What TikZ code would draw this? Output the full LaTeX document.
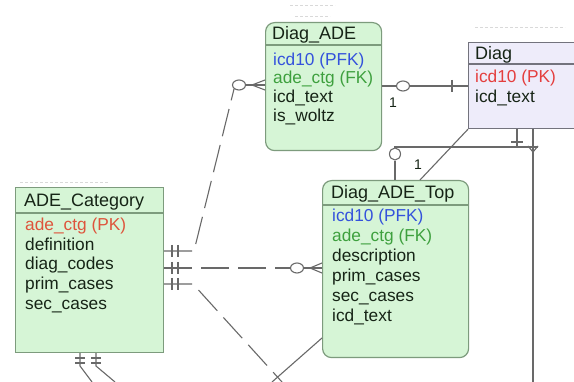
\documentclass[tikz,border=0pt]{standalone}
\usepackage{fontspec}
\setmainfont{Liberation Sans}
\usetikzlibrary{shapes.geometric}

\definecolor{entfill}{RGB}{214,245,214}
\definecolor{entdraw}{RGB}{125,155,125}
\definecolor{reffill}{RGB}{238,236,250}
\definecolor{refdraw}{RGB}{115,115,125}
\definecolor{pkred}{RGB}{228,62,62}
\definecolor{pkorange}{RGB}{222,84,60}
\definecolor{pfkblue}{RGB}{52,82,220}
\definecolor{fkgreen}{RGB}{62,160,62}
\definecolor{txtdark}{RGB}{22,36,22}
\definecolor{linegray}{RGB}{105,105,105}

\begin{document}
\begin{tikzpicture}[x=1pt,y=-1pt,
  entity/.style={draw=entdraw, fill=entfill, line width=1.2pt, anchor=north west, inner sep=0pt},
  refent/.style={draw=refdraw, fill=reffill, line width=1.2pt, anchor=north west, inner sep=0pt},
  sepline/.style={draw=entdraw, line width=1.2pt},
  field/.style={anchor=west, inner sep=0pt, text height=12pt, text depth=4pt,
    text=txtdark, font=\fontsize{17.3}{20}\selectfont},
  hdr/.style={field, font=\fontsize{18}{20}\selectfont},
  rel/.style={draw=linegray, line width=1.1pt},
  dashrel/.style={rel, dash pattern=on 28pt off 9pt},
  optmark/.style={ellipse, draw=linegray, fill=white, line width=1.1pt,
    minimum width=13pt, minimum height=10pt, inner sep=0pt},
  card/.style={inner sep=0pt, text=txtdark, font=\fontsize{14}{16}\selectfont},
  faint/.style={draw=linegray!25, line width=1pt, dash pattern=on 3pt off 2pt}
]
\useasboundingbox (0,0) rectangle (574,382);
\fill[white] (0,0) rectangle (574,382);

% traces of relations leaving the top edge
\draw[faint] (290,6) -- (335,6);
\draw[faint] (295,17) -- (330,17);
\draw[faint] (475,28) -- (565,28);
\draw[faint] (20,183) -- (108,183);

% ---------- entities ----------
\node[entity, rounded corners=9pt, minimum width=116pt, minimum height=128pt] (diagade) at (265,22) {};
\node[refent, minimum width=120pt, minimum height=86pt] (diag) at (468,42) {};
\node[entity, minimum width=148pt, minimum height=165pt] (cat) at (15,187) {};
\node[entity, rounded corners=9pt, minimum width=146pt, minimum height=177pt] (top) at (322,180) {};

% header separators
\draw[sepline] (diagade.west |- 0,45) -- (diagade.east |- 0,45);
\draw[draw=refdraw, line width=1.2pt] (diag.west |- 0,64) -- (diag.east |- 0,64);
\draw[sepline] (cat.west |- 0,213) -- (cat.east |- 0,213);
\draw[sepline] (top.west |- 0,205) -- (top.east |- 0,205);

% Diag_ADE
\node[hdr] (dah) at (272,36) {Diag\_ADE};
\node[field, text=pfkblue] (da1) at (273,62) {icd10 (PFK)};
\node[field, text=fkgreen] (da2) at (273,80) {ade\_ctg (FK)};
\node[field] (da3) at (273,99) {icd\_text};
\node[field] (da4) at (273,118) {is\_woltz};

% Diag
\node[hdr] (dgh) at (475,56) {Diag};
\node[field, text=pkred] (dg1) at (475,79) {icd10 (PK)};
\node[field] (dg2) at (475,99) {icd\_text};

% ADE_Category
\node[hdr] (cth) at (24,203) {ADE\_Category};
\node[field, text=pkorange] (ct1) at (25,227) {ade\_ctg (PK)};
\node[field] (ct2) at (25,247) {definition};
\node[field] (ct3) at (25,266) {diag\_codes};
\node[field] (ct4) at (25,286) {prim\_cases};
\node[field] (ct5) at (25,306) {sec\_cases};

% Diag_ADE_Top
\node[hdr] (tph) at (331,195) {Diag\_ADE\_Top};
\node[field, text=pfkblue] (tp1) at (332,218) {icd10 (PFK)};
\node[field, text=fkgreen] (tp2) at (332,238) {ade\_ctg (FK)};
\node[field] (tp3) at (332,258) {description};
\node[field] (tp4) at (332,278) {prim\_cases};
\node[field] (tp5) at (332,298) {sec\_cases};
\node[field] (tp6) at (332,318) {icd\_text};

% ---------- relationships ----------
% optional-end markers
\node[optmark] (o1) at (239,85) {};
\node[optmark] (o2) at (297,268) {};
\node[optmark] (o3) at (403,86) {};
\node[optmark, minimum width=11pt, minimum height=12pt] (o4) at (395,154) {};

% ADE_Category -> Diag_ADE
\draw[dashrel] (cat.east |- 0,251) -- (194,251) -- (o1.south west);
\draw[rel] (o1.east) -- (diagade.west |- o1);
\draw[rel] (252,85) -- (diagade.west |- 0,80);
\draw[rel] (252,85) -- (diagade.west |- 0,90);

% ADE_Category -> Diag_ADE_Top
\draw[dashrel] (cat.east |- 0,268) -- (o2.west);
\draw[rel] (o2.east) -- (top.west |- o2);
\draw[rel] (310,268) -- (top.west |- 0,263);
\draw[rel] (310,268) -- (top.west |- 0,273);

% ADE_Category -> off the bottom edge
\draw[dashrel] (cat.east |- 0,284) -- (193,284) -- (282,382);
\draw[rel] (top.west |- 0,338) -- (272,382);

% identifying ticks at ADE_Category
\foreach \yy in {251,268,284} {
  \draw[rel] (172,\yy-6) -- (172,\yy+6);
  \draw[rel] (178,\yy-6) -- (178,\yy+6);
}

% ADE_Category bottom relations
\draw[rel] (cat.south -| 80,0) -- (80,366) -- (92,382);
\draw[rel] (cat.south -| 96,0) -- (96,366) -- (115,382);
\draw[rel] (75,358) -- (85,358);
\draw[rel] (75,363) -- (85,363);
\draw[rel] (91,358) -- (101,358);
\draw[rel] (91,363) -- (101,363);

% Diag_ADE -> Diag
\draw[rel] (diagade.east |- o3) -- (o3.west);
\draw[rel] (o3.east) -- (diag.west |- o3);
\draw[rel] (452,80) -- (452,92);
\node[card] (c1) at (393,103) {1};

% Diag -> Diag_ADE_Top
\draw[rel] (diag.south -| 517,0) -- (517,147);
\draw[rel] (511,142) -- (523,142);
\draw[rel] (538,147) -- (395,147) -- (o4.north);
\draw[rel] (o4.south) -- (top.north -| o4);
\node[card] (c2) at (418,165) {1};

% Diag -> off the bottom edge
\draw[rel] (diag.south -| 533,0) -- (533,382);
\draw[rel] (528,146) -- (533,152) -- (538,146);

% diagonal from Diag corner to Diag_ADE_Top
\draw[rel] (diag.south west) -- (top.north -| 420,0);
\end{tikzpicture}
\end{document}
